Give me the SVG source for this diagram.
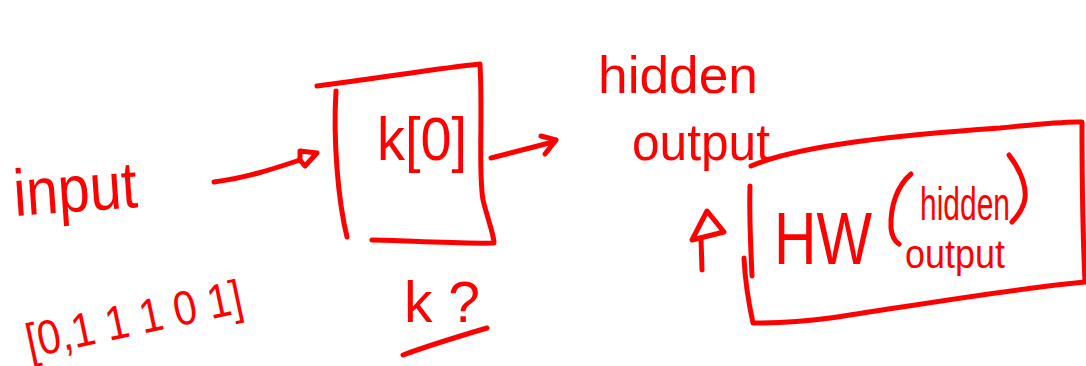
<svg xmlns="http://www.w3.org/2000/svg" width="1086" height="366" viewBox="0 0 1086 366">
<style>
.s{fill:none;stroke:#ff0000;stroke-width:5;stroke-linecap:round;stroke-linejoin:round}
.t{fill:#ff0000;font-family:"Liberation Sans",Arial,sans-serif}
</style>
<rect width="1086" height="366" fill="#ffffff"/>
<g id="input">
<text class="t" x="14" y="212" font-size="66" textLength="124" lengthAdjust="spacingAndGlyphs" transform="rotate(-4 70 200)">input</text>
<text class="t" x="22" y="336" font-size="48" textLength="220" lengthAdjust="spacingAndGlyphs" transform="rotate(-12 130 310)">[0,1 1 1 0 1]</text>
</g>
<g id="k-box">
<path class="s" d="M317,86 C380,78 440,68 480,64 C483,120 478,170 483,200 C488,220 494,235 494,243 C450,244 400,240 372,240"/>
<path class="s" d="M336,91 C333,140 338,200 347,237"/>
<text class="t" x="377" y="160" font-size="62" textLength="90" lengthAdjust="spacingAndGlyphs">k[0]</text>
<text class="t" x="404" y="322" font-size="58" textLength="76" lengthAdjust="spacingAndGlyphs">k ?</text>
<path class="s" d="M403,355 C430,345 460,336 487,328"/>
</g>
<g id="hidden-output">
<text class="t" x="598" y="93" font-size="52" textLength="160" lengthAdjust="spacingAndGlyphs">hidden</text>
<text class="t" x="632" y="160" font-size="52" textLength="138" lengthAdjust="spacingAndGlyphs">output</text>
</g>
<g id="hw-box">
<path class="s" d="M751,166 C800,145 900,135 1000,128 C1040,124 1065,121 1082,122 C1082,180 1083,240 1085,282 C1000,290 900,308 830,318 C800,322 770,323 753,323 C748,300 745,280 744,258"/>
<path class="s" d="M750,186 C749,220 751,250 752,276"/>
<text class="t" x="774" y="264" font-size="74" textLength="98" lengthAdjust="spacingAndGlyphs">HW</text>
<path class="s" d="M911,174 C898,185 890,205 891,228 C892,238 896,242 899,244"/>
<text class="t" x="920" y="220" font-size="46" textLength="90" lengthAdjust="spacingAndGlyphs">hidden</text>
<text class="t" x="905" y="268" font-size="40" textLength="100" lengthAdjust="spacingAndGlyphs">output</text>
<path class="s" d="M1009,155 C1022,172 1028,190 1024,203 C1021,212 1016,218 1012,222"/>
</g>
<g id="connectors">
<path class="s" d="M214,182 C245,178 270,170 300,160"/>
<path class="s" d="M300,160 L300,151 L317,153 L305,166 Z"/>
<path class="s" d="M491,158 C510,153 530,148 553,142"/>
<path class="s" d="M541,136 L556,140 L545,154"/>
<path class="s" d="M702,270 L701,238"/>
<path class="s" d="M692,240 L707,211 L724,232 Z"/>
</g>
</svg>
